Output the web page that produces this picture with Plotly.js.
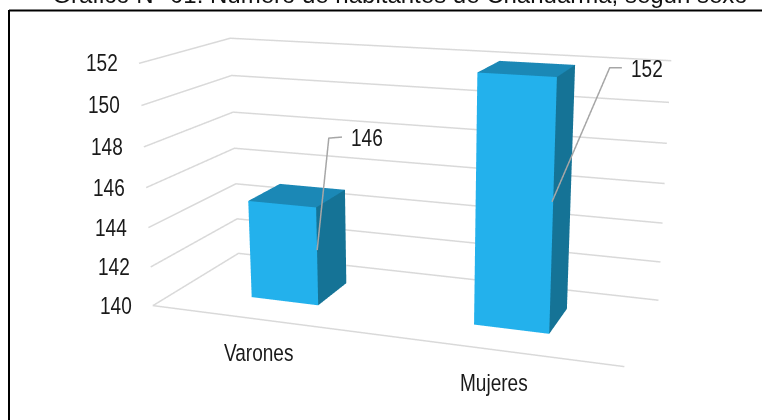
<!DOCTYPE html>
<html style="overflow:hidden"><head><meta charset="utf-8"><script src="https://cdn.plot.ly/plotly-3.0.1.min.js"></script>
<style>html,body{margin:0;background:#fff;overflow:hidden;width:762px;height:420px}
.annotation-text{transform-box:fill-box;transform-origin:center;transform:scaleX(.81)}</style></head>
<body><div id="c" style="position:absolute;left:-1px;top:-320px;width:830px;height:1058px"></div>
<script>
const titleText='Gráfico N° 01: Número de habitantes de Chahuarma, según sexo';
const categories=['Varones','Mujeres'];
// Height of each column as read against the axis; the printed labels are kept separately as drawn in the picture.
const barTops=[145,152];
const dataLabels=['146','152'];
const ticks=[140,142,144,146,148,150,152];
const leaderX=[[0.658,0.720,0.778],[1.652,1.855,1.900]];
const leaderZ=[[142.86,148.48,148.58],[146.34,152.54,152.57]];
const eye=[1.572,-4.338,1.178],ctr=[0.024,0.010,-0.091],up=[0.021,-0.086,6.032],asp=[1.8,0.706,0.926];
const W=830,H=1058,L=-1,T=-320;
const barW=0.312,barD=0.395,pad=0.2;
const y0=0.5-barD/2-0.004;
function box(i){const c=i+.5,x0=c-barW/2,x1=c+barW/2,yf=.5-barD/2,yb=.5+barD/2,a=ticks[0],z=barTops[i];
 return {type:'mesh3d',x:[x0,x1,x1,x0,x0,x1,x1,x0],y:[yf,yf,yb,yb,yf,yf,yb,yb],z:[a,a,a,a,z,z,z,z],i:[0,0,1,1,4,4],j:[1,5,2,6,5,6],k:[5,4,6,5,6,7],
 facecolor:['#23b1ec','#23b1ec','#157396','#157396','#1b88b6','#1b88b6'],flatshading:true,lighting:{ambient:1,diffuse:0,specular:0,fresnel:0,roughness:1},showscale:false,hoverinfo:'skip'};}
const tr=categories.map((_,i)=>box(i));
ticks.forEach((z,i)=>tr.push({type:'scatter3d',mode:'lines',x:i==0?[2,0,0,2]:[0,0,2],y:i==0?[0,0,1,1]:[0,1,1],z:(i==0?[z,z,z,z]:[z,z,z]),line:{color:'#d9d9d9',width:3},hoverinfo:'skip',showlegend:false}));
leaderX.forEach((lx,i)=>tr.push({type:'scatter3d',mode:'lines',x:lx,y:lx.map(_=>y0),z:leaderZ[i],line:{color:'#a6a6a6',width:3},hoverinfo:'skip',showlegend:false}));
const font={family:'"Liberation Sans",Arial,sans-serif',size:23.5,color:'#1a1a1a'};
const ann=[];
ticks.forEach(t=>ann.push({x:0,y:0,z:t,text:String(t),showarrow:false,xanchor:'right',xshift:-19,font}));
categories.forEach((c,i)=>ann.push({x:i+.5,y:0,z:ticks[0],text:c,showarrow:false,xshift:-1,yshift:-33.5,font}));
dataLabels.forEach((d,i)=>ann.push({x:leaderX[i][2],y:y0,z:leaderZ[i][2],text:d,showarrow:false,xanchor:'left',xshift:7.5,yshift:-1,font}));
const px=x=>(x-L)/W,py=y=>1-(y-T)/H;
Plotly.newPlot('c',tr,{width:W,height:H,margin:{l:0,r:0,t:0,b:0},showlegend:false,paper_bgcolor:'#fff',
 title:{text:titleText,x:px(400),xanchor:'center',y:py(2.5),yanchor:'bottom',font:{family:'"Liberation Sans",Arial,sans-serif',size:24,color:'#111'}},
 shapes:[{type:'line',xref:'paper',yref:'paper',x0:px(9),x1:px(762),y0:py(10.5),y1:py(10.5),line:{color:'#000',width:2}},{type:'line',xref:'paper',yref:'paper',x0:px(9),x1:px(9),y0:py(10),y1:py(420),line:{color:'#000',width:2}}],
 scene:{domain:{x:[0,1],y:[0,1]},aspectmode:'manual',aspectratio:{x:asp[0]*(2+2*pad)/2,y:asp[1]*(1+pad),z:asp[2]*(12+2*pad*5)/12},
 camera:{eye:{x:eye[0],y:eye[1],z:eye[2]},center:{x:ctr[0],y:ctr[1],z:ctr[2]},up:{x:up[0],y:up[1],z:up[2]},projection:{type:'perspective'}},
 xaxis:{visible:false,range:[-pad,2+pad]},yaxis:{visible:false,range:[-pad*.5,1+pad*.5]},zaxis:{visible:false,range:[140-pad*5,152+pad*5]},annotations:ann}},{displayModeBar:false});
</script></body></html>
